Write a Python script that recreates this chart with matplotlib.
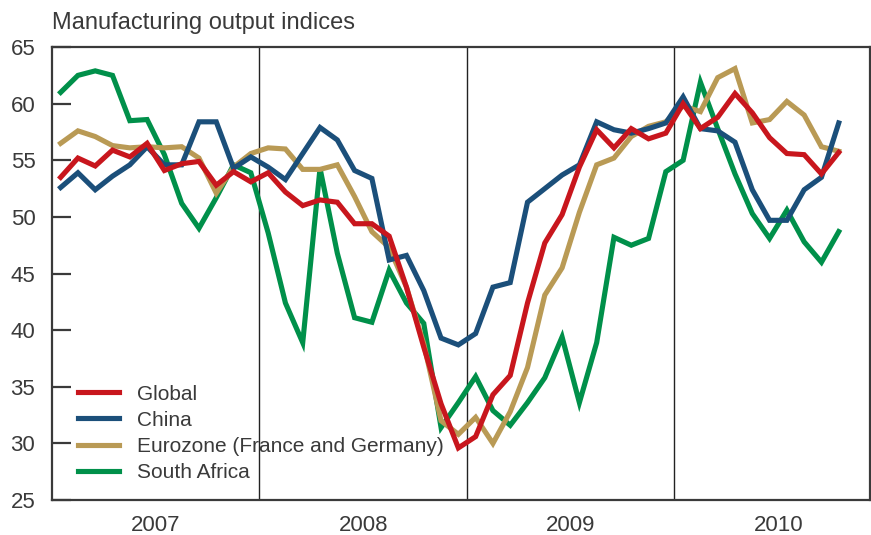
import matplotlib.pyplot as plt
import numpy as np

# Monthly readings, Jan 2007 - Oct 2010
global_idx = [53.5, 55.2, 54.5, 55.9, 55.3, 56.5, 54.1, 54.7, 54.9, 52.8, 54.0, 53.1,
              53.9, 52.2, 51.0, 51.5, 51.3, 49.4, 49.4, 48.3, 43.8, 38.5, 33.5, 29.6,
              30.6, 34.3, 36.0, 42.4, 47.7, 50.2, 54.4, 57.7, 56.1, 57.8, 56.9, 57.4,
              60.0, 57.8, 58.8, 60.9, 59.2, 57.0, 55.6, 55.5, 53.8, 55.7]
china = [52.6, 53.9, 52.4, 53.6, 54.6, 56.2, 54.6, 54.6, 58.4, 58.4, 54.3, 55.3,
         54.4, 53.3, 55.6, 57.9, 56.8, 54.1, 53.4, 46.2, 46.6, 43.5, 39.3, 38.7,
         39.7, 43.8, 44.2, 51.3, 52.5, 53.7, 54.6, 58.4, 57.7, 57.4, 57.8, 58.3,
         60.6, 57.8, 57.6, 56.6, 52.4, 49.7, 49.7, 52.4, 53.5, 58.3]
eurozone = [56.5, 57.6, 57.1, 56.3, 56.1, 56.2, 56.1, 56.2, 55.2, 52.1, 54.4, 55.6,
            56.1, 56.0, 54.2, 54.2, 54.6, 51.8, 48.7, 47.3, 43.8, 38.8, 32.0, 30.8,
            32.3, 30.0, 32.8, 36.7, 43.1, 45.5, 50.4, 54.6, 55.2, 57.1, 58.0, 58.4,
            59.8, 59.3, 62.3, 63.1, 58.3, 58.6, 60.2, 59.0, 56.2, 55.8]
south_africa = [61.0, 62.5, 62.9, 62.5, 58.5, 58.6, 55.5, 51.2, 49.0, 51.7, 54.6, 53.9,
                48.6, 42.4, 38.9, 54.3, 46.8, 41.1, 40.7, 45.3, 42.4, 40.6, 31.4, 33.6,
                35.9, 32.9, 31.6, 33.6, 35.8, 39.4, 33.6, 38.9, 48.2, 47.5, 48.1, 54.0,
                55.0, 61.9, 57.8, 53.8, 50.3, 48.1, 50.6, 47.8, 46.0, 48.7]
years = ['2007', '2008', '2009', '2010']

series = [
    ('Global', global_idx, '#c8161d'),
    ('China', china, '#1b4f7a'),
    ('Eurozone (France and Germany)', eurozone, '#b99a55'),
    ('South Africa', south_africa, '#00904a'),
]

plt.rcParams['font.family'] = ['Liberation Sans', 'DejaVu Sans']
text_col = '#3a3a3a'

fig = plt.figure(figsize=(8.71, 5.35), dpi=100)
ax = fig.add_axes([0.0597, 0.0654, 0.939, 0.8466])

x = np.arange(len(global_idx)) + 0.5
# South Africa drawn first so the others sit on top; legend order restored below
for name, vals, col in reversed(series):
    ax.plot(x, vals, color=col, lw=3.7, label=name, solid_joinstyle='miter')

for b in [12, 24, 36]:
    ax.axvline(b, color='#222222', lw=1.0, zorder=0)

ax.set_xlim(0, 47.3)
ax.set_ylim(25, 65)
ax.set_yticks(range(25, 66, 5))
ax.tick_params(axis='y', direction='in', length=14, width=1.6, color=text_col,
               labelsize=16, labelcolor=text_col, pad=12)
ax.set_xticks([0, 12, 24, 36])
ax.set_xticklabels([])
ax.tick_params(axis='x', length=0)
ax.set_xticks([6, 18, 30, 42], minor=True)
ax.set_xticklabels(years, minor=True)
ax.tick_params(axis='x', which='minor', length=0, labelsize=16, labelcolor=text_col, pad=11)

for s in ax.spines.values():
    s.set_color(text_col)
    s.set_linewidth(1.6)

handles, labels = ax.get_legend_handles_labels()
ax.legend(handles[::-1], labels[::-1], loc='lower left', bbox_to_anchor=(0.032, 0.04),
          frameon=False, fontsize=15, handlelength=1.95, handletextpad=0.85,
          labelspacing=0.34, borderpad=0, borderaxespad=0, labelcolor=text_col)

fig.text(0.0597, 0.957, 'Manufacturing output indices', fontsize=17, color=text_col,
         ha='left', va='center')

fig.savefig('out.png', dpi=100)
